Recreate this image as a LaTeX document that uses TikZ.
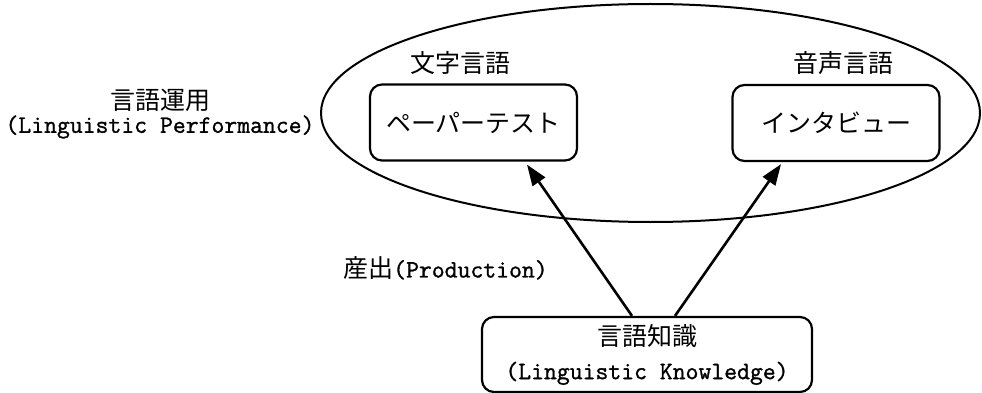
\documentclass[tikz,border=0pt]{standalone}
\usepackage{fontspec}
\newfontfamily\jp{Noto Sans CJK JP}
\newfontfamily\lat[FakeBold=1.2]{Latin Modern Mono}
\usetikzlibrary{arrows.meta,calc}
\begin{document}
\begin{tikzpicture}[x=1pt,y=-1pt,
  jpt/.style={font=\jp\fontsize{25}{30}\selectfont},
  latt/.style={font=\lat\fontsize{25}{30}\selectfont},
  box/.style={draw,line width=2.2pt,rounded corners=12pt,minimum width=207pt,minimum height=76pt,inner sep=0pt},
  arr/.style={line width=2.6pt,-{Triangle[length=21pt,width=15pt]}}]
\useasboundingbox (0,0) rectangle (982,393);
\draw[line width=2pt] (650.5,113) ellipse [x radius=329.5, y radius=109];
\node[box,jpt] (pp) at (473.5,122.5) {ペーパーテスト};
\node[box,jpt] (iv) at (836,123) {インタビュー};
\node[jpt] (wl) at (460,63) {文字言語};
\node[jpt] (sl) at (843,63) {音声言語};
\node[jpt] (lu) at (160,100) {言語運用};
\node[latt] (lp) at (160,127) {(Linguistic Performance)};
\node[anchor=west,inner sep=0pt,font=\fontsize{25}{30}\selectfont] (pr) at (343,268) {{\jp 産出}{\lat (Production)}};
\node[box,minimum width=330pt,minimum height=75pt,align=center,font=\fontsize{25}{34}\selectfont] (kb) at (647,354.5) {{\jp 言語知識}\\{\lat (Linguistic Knowledge)}};
\draw[arr] ($(kb.north)+(-15,0)$) -- ($(pp.south)+(53.5,3)$);
\draw[arr] ($(kb.north)+(28,0)$) -- ($(iv.south)+(-55,2)$);
\end{tikzpicture}
\end{document}
